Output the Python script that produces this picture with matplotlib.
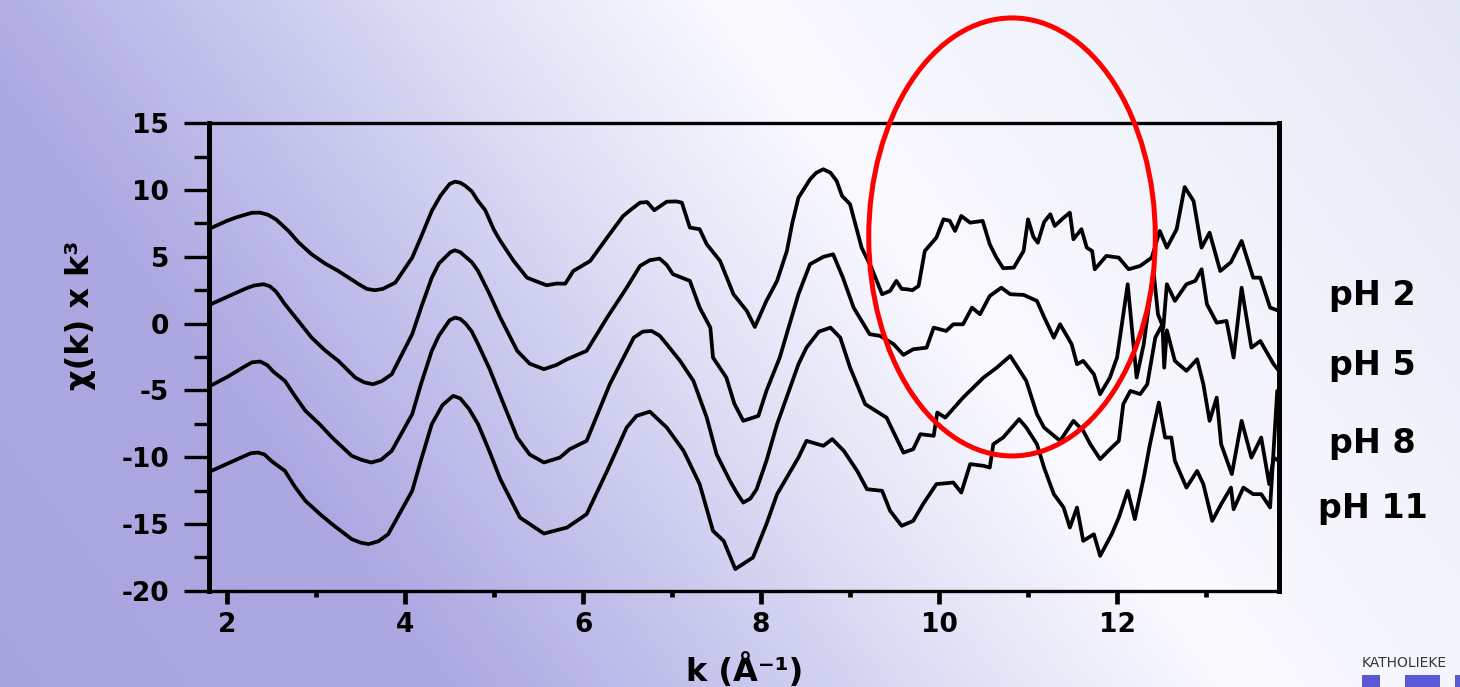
import numpy as np
import matplotlib
matplotlib.use("Agg")
import matplotlib.pyplot as plt
from matplotlib.patches import Ellipse, Rectangle
from matplotlib.ticker import MultipleLocator

# ---- EXAFS spectra chi(k)*k^3 as (k, value) pairs, offset per pH ----
ph2_points = [
    (1.80, 7.1), (2.00, 7.7), (2.10, 7.95), (2.20, 8.15), (2.28, 8.30), (2.37, 8.31), (2.46, 8.15),
    (2.55, 7.8), (2.69, 6.94), (2.80, 6.1), (2.95, 5.19), (3.10, 4.5), (3.25, 3.94), (3.48, 2.95),
    (3.57, 2.6), (3.66, 2.50), (3.75, 2.6), (3.89, 3.07), (4.08, 4.94), (4.18, 6.5), (4.30, 8.44),
    (4.40, 9.6), (4.50, 10.45), (4.56, 10.63), (4.62, 10.55), (4.68, 10.3), (4.75, 9.9), (4.82, 9.18),
    (4.90, 8.5), (5.00, 7.0), (5.07, 6.2), (5.22, 4.69), (5.37, 3.44), (5.59, 2.87), (5.70, 3.0),
    (5.80, 2.99), (5.89, 3.94), (6.08, 4.69), (6.27, 6.44), (6.45, 8.06), (6.55, 8.6), (6.64, 9.06),
    (6.72, 9.1), (6.80, 8.49), (6.94, 9.13), (7.05, 9.15), (7.11, 9.06), (7.20, 7.19), (7.31, 7.07),
    (7.39, 5.94), (7.54, 4.69), (7.69, 2.20), (7.84, 0.95), (7.93, -0.25), (8.06, 1.70), (8.18, 3.20),
    (8.29, 5.44), (8.35, 7.5), (8.42, 9.43), (8.55, 10.8), (8.62, 11.3), (8.70, 11.56), (8.78, 11.3),
    (8.85, 10.68), (8.91, 9.56), (9.00, 8.94), (9.13, 5.69), (9.24, 4.19), (9.36, 2.20), (9.45, 2.45),
    (9.52, 3.20), (9.58, 2.6), (9.64, 2.57), (9.70, 2.5), (9.77, 2.82), (9.84, 5.44), (9.97, 6.44),
    (10.05, 7.81), (10.12, 7.7), (10.18, 6.94), (10.25, 8.06), (10.35, 7.56), (10.49, 7.69),
    (10.57, 5.94), (10.64, 5.0), (10.72, 4.15), (10.84, 4.19), (10.95, 5.44), (11.00, 7.81),
    (11.06, 6.5), (11.11, 6.06), (11.18, 7.6), (11.25, 8.19), (11.30, 7.31), (11.40, 7.93),
    (11.47, 8.31), (11.51, 6.32), (11.60, 7.07), (11.66, 5.69), (11.72, 5.44), (11.75, 4.07),
    (11.88, 5.07), (12.02, 4.94), (12.13, 4.07), (12.26, 4.32), (12.39, 4.94), (12.48, 6.94),
    (12.56, 5.69), (12.67, 7.07), (12.76, 10.23), (12.86, 9.18), (12.95, 5.69), (13.04, 6.81),
    (13.16, 3.94), (13.28, 4.6), (13.40, 6.19), (13.53, 3.44), (13.61, 3.44), (13.72, 1.20),
    (13.82, 0.95),
]

ph5_points = [
    (1.80, 1.4), (2.00, 2.0), (2.10, 2.3), (2.20, 2.6), (2.30, 2.85), (2.41, 2.95), (2.48, 2.8),
    (2.55, 2.4), (2.65, 1.45), (2.80, 0.2), (2.95, -1.05), (3.10, -2.0), (3.25, -2.79), (3.44, -4.04),
    (3.54, -4.4), (3.64, -4.54), (3.74, -4.3), (3.85, -3.79), (4.08, -0.79), (4.18, 1.2), (4.30, 3.44),
    (4.38, 4.5), (4.51, 5.35), (4.56, 5.49), (4.62, 5.35), (4.75, 4.6), (4.82, 3.94), (4.95, 2.2),
    (5.07, 0.45), (5.26, -2.04), (5.40, -3.0), (5.56, -3.41), (5.70, -3.1), (5.82, -2.67), (6.04, -2.04),
    (6.27, 0.45), (6.49, 2.69), (6.64, 4.32), (6.75, 4.75), (6.86, 4.87), (6.94, 4.4), (7.01, 3.70),
    (7.20, 3.20), (7.31, 1.20), (7.43, -0.30), (7.46, -2.54), (7.61, -4.04), (7.70, -6.0), (7.80, -7.28),
    (7.97, -6.91), (8.06, -5.04), (8.21, -2.54), (8.42, 2.20), (8.55, 4.45), (8.70, 5.0), (8.81, 5.19),
    (8.92, 3.44), (9.04, 1.20), (9.22, -0.79), (9.34, -0.92), (9.49, -1.54), (9.60, -2.34), (9.71, -1.92),
    (9.86, -1.80), (9.94, -0.30), (10.08, -0.55), (10.16, -0.05), (10.27, -0.05), (10.37, 1.20),
    (10.46, 0.70), (10.57, 2.07), (10.70, 2.69), (10.80, 2.20), (10.95, 2.15), (11.10, 1.70),
    (11.18, 0.5), (11.29, -1.05), (11.36, -0.05), (11.49, -1.54), (11.55, -3.04), (11.62, -2.79),
    (11.74, -3.79), (11.81, -5.28), (11.92, -4.04), (12.00, -2.54), (12.12, 2.95), (12.22, -4.04),
    (12.30, -1.54), (12.41, 3.94), (12.46, 0.70), (12.52, -0.30), (12.56, 2.95), (12.65, 1.70),
    (12.78, 2.95), (12.88, 3.20), (12.95, 4.07), (13.01, 1.45), (13.12, 0.07), (13.23, 0.20),
    (13.31, -2.54), (13.40, 2.69), (13.51, -1.80), (13.61, -1.30), (13.76, -3.04), (13.82, -3.54),
]

ph8_points = [
    (1.80, -4.7), (2.00, -4.0), (2.10, -3.6), (2.20, -3.2), (2.28, -2.9), (2.37, -2.84), (2.45, -3.1),
    (2.52, -3.6), (2.65, -4.29), (2.76, -5.4), (2.88, -6.53), (3.05, -7.6), (3.18, -8.53), (3.40, -9.90),
    (3.51, -10.2), (3.62, -10.40), (3.73, -10.2), (3.85, -9.53), (4.08, -6.78), (4.18, -4.5), (4.30, -2.04),
    (4.38, -0.9), (4.50, 0.25), (4.56, 0.45), (4.62, 0.35), (4.68, 0.0), (4.75, -0.6), (4.82, -1.54),
    (4.95, -3.4), (5.07, -5.41), (5.26, -8.53), (5.40, -9.8), (5.56, -10.40), (5.74, -10.03), (5.85, -9.40),
    (6.04, -8.78), (6.30, -4.54), (6.57, -1.05), (6.67, -0.6), (6.77, -0.55), (6.86, -0.9), (6.94, -1.54),
    (7.09, -2.79), (7.24, -4.29), (7.39, -7.04), (7.50, -9.78), (7.65, -11.77), (7.73, -12.7), (7.80, -13.40),
    (7.88, -13.1), (7.95, -12.40), (8.06, -10.28), (8.18, -7.53), (8.42, -3.04), (8.51, -1.80), (8.65, -0.6),
    (8.78, -0.30), (8.89, -1.05), (9.00, -3.29), (9.17, -6.03), (9.41, -7.04), (9.60, -9.66), (9.71, -9.40),
    (9.79, -8.28), (9.94, -8.40), (9.98, -6.66), (10.07, -7.04), (10.27, -5.54), (10.50, -4.04),
    (10.65, -3.29), (10.80, -2.42), (10.98, -4.29), (11.10, -6.78), (11.18, -7.78), (11.36, -8.78),
    (11.51, -7.28), (11.62, -8.03), (11.70, -9.03), (11.81, -10.15), (11.94, -9.28), (12.02, -8.78),
    (12.07, -6.03), (12.15, -5.04), (12.26, -5.28), (12.34, -4.54), (12.43, -1.05), (12.51, -0.05),
    (12.53, -3.3), (12.56, -0.5), (12.65, -2.79), (12.78, -3.54), (12.90, -2.67), (12.97, -4.54),
    (13.04, -7.28), (13.12, -5.54), (13.17, -9.03), (13.29, -11.27), (13.40, -7.28), (13.51, -10.03),
    (13.62, -8.53), (13.71, -12.02), (13.76, -10.03), (13.82, -10.3),
]

ph11_points = [
    (1.80, -11.1), (2.00, -10.5), (2.10, -10.2), (2.20, -9.9), (2.27, -9.7), (2.35, -9.66), (2.42, -9.8),
    (2.50, -10.3), (2.65, -11.03), (2.76, -12.2), (2.88, -13.27), (3.05, -14.3), (3.18, -15.02),
    (3.40, -16.14), (3.50, -16.4), (3.59, -16.51), (3.70, -16.3), (3.81, -15.77), (4.08, -12.52),
    (4.18, -10.2), (4.30, -7.53), (4.42, -6.1), (4.54, -5.41), (4.62, -5.6), (4.72, -6.4), (4.82, -7.53),
    (4.95, -9.6), (5.07, -11.65), (5.29, -14.52), (5.56, -15.72), (5.82, -15.27), (6.04, -14.27),
    (6.27, -11.03), (6.49, -7.78), (6.60, -6.91), (6.75, -6.59), (6.94, -7.78), (7.13, -9.53),
    (7.31, -12.02), (7.46, -15.52), (7.58, -16.27), (7.71, -18.38), (7.91, -17.51), (8.06, -15.02),
    (8.18, -12.77), (8.42, -10.03), (8.51, -8.78), (8.70, -9.15), (8.80, -8.65), (8.93, -9.53),
    (9.08, -11.03), (9.19, -12.40), (9.36, -12.52), (9.45, -14.02), (9.58, -15.14), (9.71, -14.77),
    (9.82, -13.52), (9.97, -12.02), (10.16, -11.90), (10.25, -12.65), (10.35, -10.52), (10.50, -10.65),
    (10.57, -10.78), (10.61, -9.03), (10.72, -8.53), (10.90, -7.16), (10.98, -7.78), (11.10, -9.03),
    (11.18, -10.78), (11.29, -12.77), (11.40, -13.77), (11.47, -15.27), (11.55, -13.77), (11.62, -16.27),
    (11.74, -15.77), (11.81, -17.39), (11.94, -15.77), (12.02, -14.52), (12.12, -12.52), (12.20, -14.64),
    (12.30, -11.53), (12.37, -9.03), (12.47, -5.91), (12.54, -8.53), (12.61, -8.53), (12.65, -10.28),
    (12.78, -12.28), (12.90, -11.03), (12.97, -12.02), (13.07, -14.77), (13.17, -13.52), (13.28, -12.28),
    (13.31, -13.90), (13.42, -12.28), (13.53, -12.77), (13.62, -12.77), (13.72, -13.77), (13.80, -5.04),
]

series_labels = ["pH 2", "pH 5", "pH 8", "pH 11"]
label_y = [2.07, -3.17, -9.0, -13.86]

x_ticks = [2, 4, 6, 8, 10, 12]
y_ticks = [15, 10, 5, 0, -5, -10, -15, -20]

# ---- figure with slide-style lavender background ----
W, H = 1460, 687
fig = plt.figure(figsize=(W / 100, H / 100), dpi=100)

bg_ax = fig.add_axes([0, 0, 1, 1], zorder=-10)
bg_ax.set_axis_off()
px, py = np.meshgrid(np.arange(W), np.arange(H))
s = px - 0.75 * py
stops = [-600, -60, 230, 470, 720, 1100, 1500]
cols = np.array([[168, 164, 222], [172, 168, 226], [200, 200, 238], [226, 227, 246],
                 [250, 250, 255], [240, 242, 250], [226, 229, 244]], float) / 255
img = np.stack([np.interp(s, stops, cols[:, c]) for c in range(3)], axis=-1)
bg_ax.imshow(img, aspect="auto", extent=[0, 1, 0, 1], transform=bg_ax.transAxes)
bg_ax.set_xlim(0, 1)
bg_ax.set_ylim(0, 1)

# partial logo at the lower right corner
fig.text(1362 / W, 1 - 667 / H, "KATHOLIEKE", fontsize=10, color="#333344",
         family="DejaVu Sans", va="baseline", ha="left")
for x0, w in [(1362, 18), (1405, 35), (1455, 20)]:
    fig.patches.append(Rectangle((x0 / W, 0), w / W, 12 / H, transform=fig.transFigure,
                                 facecolor="#5b58d6", edgecolor="none"))

ax = fig.add_axes([209.3 / W, 1 - 590.7 / H, (1279 - 209.3) / W, (590.7 - 123.3) / H])
ax.patch.set_alpha(0)

for pts in [ph2_points, ph5_points, ph8_points, ph11_points]:
    k = [p[0] for p in pts]
    chi = [p[1] for p in pts]
    ax.plot(k, chi, color="black", lw=2.7, solid_joinstyle="round", solid_capstyle="round")

ax.set_xlim(1.8, 13.82)
ax.set_ylim(-20, 15)
ax.set_xticks(x_ticks)
ax.set_yticks(y_ticks)
ax.xaxis.set_minor_locator(MultipleLocator(1))
ax.yaxis.set_minor_locator(MultipleLocator(2.5))

font = dict(family="DejaVu Sans", weight="bold")
ax.set_xticklabels([str(v) for v in x_ticks], fontsize=19, **font)
ax.set_yticklabels([str(v) for v in y_ticks], fontsize=19, **font)
ax.tick_params(axis="y", which="major", direction="out", length=18, width=2.4, pad=11)
ax.tick_params(axis="y", which="minor", direction="out", length=11, width=2.4)
ax.tick_params(axis="x", which="major", direction="out", length=9, width=3.4, pad=6)
ax.tick_params(axis="x", which="minor", direction="out", length=4, width=3.4)
for side, lw in [("left", 3.6), ("right", 3.6), ("top", 2.4), ("bottom", 2.4)]:
    ax.spines[side].set_linewidth(lw)

for lab, yv in zip(series_labels, label_y):
    ax.text(14.87, yv, lab, fontsize=24, ha="center", va="center", clip_on=False, **font)

# highlighted noisy region
ax.add_patch(Ellipse((10.82, 6.49), 3.22, 32.8, fill=False, edgecolor="#ff0000",
                     lw=3.6, clip_on=False, zorder=5))

fig.text(80 / W, 1 - 315 / H, "χ(k) x k³", rotation=90, fontsize=23,
         ha="center", va="center", **font)
fig.text(745 / W, 1 - 681 / H, "k (Å⁻¹)", fontsize=23, ha="center", va="baseline", **font)

fig.savefig("out.png", dpi=100)
